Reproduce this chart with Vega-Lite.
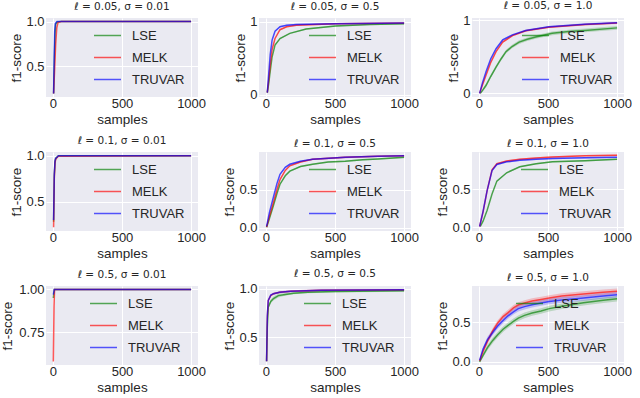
{
"$schema": "https://vega.github.io/schema/vega-lite/v6.json",
"padding": {"left": 0, "top": 0, "right": 0, "bottom": 0},
"bounds": "flush",
"columns": 3,
"spacing": {"row": 55, "column": 61},
"resolve": {"scale": {"y": "independent", "x": "independent"}, "legend": {"color": "independent"}},
"data": {"values": [
{"p":1,"m":"LSE","x":5,"y":0.2,"lo":0.2,"hi":0.2},
{"p":1,"m":"LSE","x":10,"y":0.55,"lo":0.55,"hi":0.55},
{"p":1,"m":"LSE","x":15,"y":0.85,"lo":0.85,"hi":0.85},
{"p":1,"m":"LSE","x":20,"y":0.97,"lo":0.97,"hi":0.97},
{"p":1,"m":"LSE","x":30,"y":0.995,"lo":0.995,"hi":0.995},
{"p":1,"m":"LSE","x":60,"y":1.0,"lo":1.0,"hi":1.0},
{"p":1,"m":"LSE","x":1000,"y":1.0,"lo":1.0,"hi":1.0},
{"p":1,"m":"MELK","x":5,"y":0.2,"lo":0.2,"hi":0.2},
{"p":1,"m":"MELK","x":12,"y":0.45,"lo":0.45,"hi":0.45},
{"p":1,"m":"MELK","x":20,"y":0.75,"lo":0.75,"hi":0.75},
{"p":1,"m":"MELK","x":28,"y":0.93,"lo":0.93,"hi":0.93},
{"p":1,"m":"MELK","x":37,"y":0.99,"lo":0.99,"hi":0.99},
{"p":1,"m":"MELK","x":60,"y":1.0,"lo":1.0,"hi":1.0},
{"p":1,"m":"MELK","x":1000,"y":1.0,"lo":1.0,"hi":1.0},
{"p":1,"m":"TRUVAR","x":5,"y":0.2,"lo":0.2,"hi":0.2},
{"p":1,"m":"TRUVAR","x":9,"y":0.6,"lo":0.6,"hi":0.6},
{"p":1,"m":"TRUVAR","x":13,"y":0.9,"lo":0.9,"hi":0.9},
{"p":1,"m":"TRUVAR","x":18,"y":0.98,"lo":0.98,"hi":0.98},
{"p":1,"m":"TRUVAR","x":30,"y":1.0,"lo":1.0,"hi":1.0},
{"p":1,"m":"TRUVAR","x":1000,"y":1.0,"lo":1.0,"hi":1.0},

{"p":2,"m":"LSE","x":10,"y":0.03,"lo":0.02,"hi":0.04},
{"p":2,"m":"LSE","x":20,"y":0.15,"lo":0.14,"hi":0.16},
{"p":2,"m":"LSE","x":31,"y":0.32,"lo":0.31,"hi":0.33},
{"p":2,"m":"LSE","x":45,"y":0.52,"lo":0.51,"hi":0.53},
{"p":2,"m":"LSE","x":66,"y":0.68,"lo":0.67,"hi":0.69},
{"p":2,"m":"LSE","x":102,"y":0.77,"lo":0.76,"hi":0.78},
{"p":2,"m":"LSE","x":173,"y":0.84,"lo":0.83,"hi":0.85},
{"p":2,"m":"LSE","x":291,"y":0.9,"lo":0.89,"hi":0.91},
{"p":2,"m":"LSE","x":504,"y":0.94,"lo":0.93,"hi":0.95},
{"p":2,"m":"LSE","x":750,"y":0.96,"lo":0.95,"hi":0.97},
{"p":2,"m":"LSE","x":1000,"y":0.97,"lo":0.96,"hi":0.98},
{"p":2,"m":"MELK","x":10,"y":0.03,"lo":0.02,"hi":0.04},
{"p":2,"m":"MELK","x":20,"y":0.2,"lo":0.19,"hi":0.21},
{"p":2,"m":"MELK","x":31,"y":0.41,"lo":0.4,"hi":0.42},
{"p":2,"m":"MELK","x":45,"y":0.62,"lo":0.61,"hi":0.63},
{"p":2,"m":"MELK","x":66,"y":0.77,"lo":0.76,"hi":0.78},
{"p":2,"m":"MELK","x":102,"y":0.89,"lo":0.88,"hi":0.9},
{"p":2,"m":"MELK","x":150,"y":0.93,"lo":0.92,"hi":0.94},
{"p":2,"m":"MELK","x":220,"y":0.95,"lo":0.94,"hi":0.96},
{"p":2,"m":"MELK","x":500,"y":0.97,"lo":0.96,"hi":0.98},
{"p":2,"m":"MELK","x":1000,"y":0.98,"lo":0.97,"hi":0.99},
{"p":2,"m":"TRUVAR","x":10,"y":0.03,"lo":0.02,"hi":0.04},
{"p":2,"m":"TRUVAR","x":20,"y":0.28,"lo":0.27,"hi":0.29},
{"p":2,"m":"TRUVAR","x":31,"y":0.55,"lo":0.54,"hi":0.56},
{"p":2,"m":"TRUVAR","x":45,"y":0.75,"lo":0.74,"hi":0.76},
{"p":2,"m":"TRUVAR","x":66,"y":0.87,"lo":0.86,"hi":0.88},
{"p":2,"m":"TRUVAR","x":102,"y":0.93,"lo":0.92,"hi":0.94},
{"p":2,"m":"TRUVAR","x":150,"y":0.95,"lo":0.94,"hi":0.96},
{"p":2,"m":"TRUVAR","x":220,"y":0.96,"lo":0.95,"hi":0.97},
{"p":2,"m":"TRUVAR","x":500,"y":0.97,"lo":0.96,"hi":0.98},
{"p":2,"m":"TRUVAR","x":1000,"y":0.98,"lo":0.97,"hi":0.99},

{"p":3,"m":"LSE","x":10,"y":0.0,"lo":-0.01,"hi":0.01},
{"p":3,"m":"LSE","x":30,"y":0.05,"lo":0.03,"hi":0.07},
{"p":3,"m":"LSE","x":52,"y":0.11,"lo":0.085,"hi":0.135},
{"p":3,"m":"LSE","x":85,"y":0.23,"lo":0.205,"hi":0.255},
{"p":3,"m":"LSE","x":124,"y":0.36,"lo":0.335,"hi":0.385},
{"p":3,"m":"LSE","x":160,"y":0.47,"lo":0.445,"hi":0.495},
{"p":3,"m":"LSE","x":196,"y":0.57,"lo":0.545,"hi":0.595},
{"p":3,"m":"LSE","x":240,"y":0.64,"lo":0.615,"hi":0.665},
{"p":3,"m":"LSE","x":291,"y":0.7,"lo":0.675,"hi":0.725},
{"p":3,"m":"LSE","x":350,"y":0.74,"lo":0.715,"hi":0.765},
{"p":3,"m":"LSE","x":411,"y":0.77,"lo":0.745,"hi":0.795},
{"p":3,"m":"LSE","x":530,"y":0.82,"lo":0.795,"hi":0.845},
{"p":3,"m":"LSE","x":650,"y":0.845,"lo":0.82,"hi":0.87},
{"p":3,"m":"LSE","x":768,"y":0.86,"lo":0.835,"hi":0.885},
{"p":3,"m":"LSE","x":1000,"y":0.895,"lo":0.87,"hi":0.92},
{"p":3,"m":"MELK","x":5,"y":0.0,"lo":-0.005,"hi":0.005},
{"p":3,"m":"MELK","x":25,"y":0.11,"lo":0.098,"hi":0.122},
{"p":3,"m":"MELK","x":52,"y":0.25,"lo":0.238,"hi":0.262},
{"p":3,"m":"MELK","x":85,"y":0.42,"lo":0.408,"hi":0.432},
{"p":3,"m":"MELK","x":124,"y":0.57,"lo":0.558,"hi":0.582},
{"p":3,"m":"MELK","x":172,"y":0.7,"lo":0.688,"hi":0.712},
{"p":3,"m":"MELK","x":243,"y":0.79,"lo":0.778,"hi":0.802},
{"p":3,"m":"MELK","x":339,"y":0.855,"lo":0.843,"hi":0.867},
{"p":3,"m":"MELK","x":506,"y":0.905,"lo":0.893,"hi":0.917},
{"p":3,"m":"MELK","x":768,"y":0.94,"lo":0.928,"hi":0.952},
{"p":3,"m":"MELK","x":1000,"y":0.96,"lo":0.948,"hi":0.972},
{"p":3,"m":"TRUVAR","x":5,"y":0.0,"lo":-0.005,"hi":0.005},
{"p":3,"m":"TRUVAR","x":25,"y":0.14,"lo":0.128,"hi":0.152},
{"p":3,"m":"TRUVAR","x":52,"y":0.3,"lo":0.288,"hi":0.312},
{"p":3,"m":"TRUVAR","x":85,"y":0.47,"lo":0.458,"hi":0.482},
{"p":3,"m":"TRUVAR","x":124,"y":0.61,"lo":0.598,"hi":0.622},
{"p":3,"m":"TRUVAR","x":172,"y":0.73,"lo":0.718,"hi":0.742},
{"p":3,"m":"TRUVAR","x":243,"y":0.8,"lo":0.788,"hi":0.812},
{"p":3,"m":"TRUVAR","x":339,"y":0.86,"lo":0.848,"hi":0.872},
{"p":3,"m":"TRUVAR","x":506,"y":0.91,"lo":0.898,"hi":0.922},
{"p":3,"m":"TRUVAR","x":768,"y":0.945,"lo":0.933,"hi":0.957},
{"p":3,"m":"TRUVAR","x":1000,"y":0.965,"lo":0.953,"hi":0.977},

{"p":4,"m":"LSE","x":5,"y":0.28,"lo":0.28,"hi":0.28},
{"p":4,"m":"LSE","x":10,"y":0.78,"lo":0.78,"hi":0.78},
{"p":4,"m":"LSE","x":15,"y":0.93,"lo":0.93,"hi":0.93},
{"p":4,"m":"LSE","x":20,"y":0.97,"lo":0.97,"hi":0.97},
{"p":4,"m":"LSE","x":40,"y":1.0,"lo":1.0,"hi":1.0},
{"p":4,"m":"LSE","x":1000,"y":1.0,"lo":1.0,"hi":1.0},
{"p":4,"m":"MELK","x":5,"y":0.22,"lo":0.22,"hi":0.22},
{"p":4,"m":"MELK","x":10,"y":0.75,"lo":0.75,"hi":0.75},
{"p":4,"m":"MELK","x":15,"y":0.92,"lo":0.92,"hi":0.92},
{"p":4,"m":"MELK","x":20,"y":0.96,"lo":0.96,"hi":0.96},
{"p":4,"m":"MELK","x":40,"y":0.995,"lo":0.995,"hi":0.995},
{"p":4,"m":"MELK","x":1000,"y":1.0,"lo":1.0,"hi":1.0},
{"p":4,"m":"TRUVAR","x":5,"y":0.3,"lo":0.3,"hi":0.3},
{"p":4,"m":"TRUVAR","x":10,"y":0.8,"lo":0.8,"hi":0.8},
{"p":4,"m":"TRUVAR","x":15,"y":0.94,"lo":0.94,"hi":0.94},
{"p":4,"m":"TRUVAR","x":20,"y":0.97,"lo":0.97,"hi":0.97},
{"p":4,"m":"TRUVAR","x":40,"y":1.0,"lo":1.0,"hi":1.0},
{"p":4,"m":"TRUVAR","x":1000,"y":1.0,"lo":1.0,"hi":1.0},

{"p":5,"m":"LSE","x":5,"y":0.01,"lo":0.0,"hi":0.02},
{"p":5,"m":"LSE","x":25,"y":0.12,"lo":0.11,"hi":0.13},
{"p":5,"m":"LSE","x":54,"y":0.29,"lo":0.28,"hi":0.3},
{"p":5,"m":"LSE","x":80,"y":0.45,"lo":0.44,"hi":0.46},
{"p":5,"m":"LSE","x":102,"y":0.57,"lo":0.56,"hi":0.58},
{"p":5,"m":"LSE","x":140,"y":0.68,"lo":0.67,"hi":0.69},
{"p":5,"m":"LSE","x":173,"y":0.74,"lo":0.73,"hi":0.75},
{"p":5,"m":"LSE","x":250,"y":0.8,"lo":0.79,"hi":0.81},
{"p":5,"m":"LSE","x":338,"y":0.83,"lo":0.82,"hi":0.84},
{"p":5,"m":"LSE","x":450,"y":0.86,"lo":0.85,"hi":0.87},
{"p":5,"m":"LSE","x":574,"y":0.87,"lo":0.86,"hi":0.88},
{"p":5,"m":"LSE","x":700,"y":0.89,"lo":0.88,"hi":0.9},
{"p":5,"m":"LSE","x":811,"y":0.9,"lo":0.89,"hi":0.91},
{"p":5,"m":"LSE","x":1000,"y":0.92,"lo":0.91,"hi":0.93},
{"p":5,"m":"MELK","x":5,"y":0.01,"lo":0.0,"hi":0.02},
{"p":5,"m":"MELK","x":25,"y":0.15,"lo":0.14,"hi":0.16},
{"p":5,"m":"MELK","x":54,"y":0.33,"lo":0.32,"hi":0.34},
{"p":5,"m":"MELK","x":80,"y":0.5,"lo":0.49,"hi":0.51},
{"p":5,"m":"MELK","x":102,"y":0.63,"lo":0.62,"hi":0.64},
{"p":5,"m":"MELK","x":140,"y":0.75,"lo":0.74,"hi":0.76},
{"p":5,"m":"MELK","x":173,"y":0.81,"lo":0.8,"hi":0.82},
{"p":5,"m":"MELK","x":250,"y":0.86,"lo":0.85,"hi":0.87},
{"p":5,"m":"MELK","x":338,"y":0.895,"lo":0.885,"hi":0.905},
{"p":5,"m":"MELK","x":574,"y":0.92,"lo":0.91,"hi":0.93},
{"p":5,"m":"MELK","x":811,"y":0.935,"lo":0.925,"hi":0.945},
{"p":5,"m":"MELK","x":1000,"y":0.94,"lo":0.93,"hi":0.95},
{"p":5,"m":"TRUVAR","x":5,"y":0.02,"lo":0.01,"hi":0.03},
{"p":5,"m":"TRUVAR","x":25,"y":0.2,"lo":0.19,"hi":0.21},
{"p":5,"m":"TRUVAR","x":54,"y":0.4,"lo":0.39,"hi":0.41},
{"p":5,"m":"TRUVAR","x":80,"y":0.58,"lo":0.57,"hi":0.59},
{"p":5,"m":"TRUVAR","x":102,"y":0.7,"lo":0.69,"hi":0.71},
{"p":5,"m":"TRUVAR","x":140,"y":0.79,"lo":0.78,"hi":0.8},
{"p":5,"m":"TRUVAR","x":173,"y":0.83,"lo":0.82,"hi":0.84},
{"p":5,"m":"TRUVAR","x":250,"y":0.87,"lo":0.86,"hi":0.88},
{"p":5,"m":"TRUVAR","x":338,"y":0.895,"lo":0.885,"hi":0.905},
{"p":5,"m":"TRUVAR","x":574,"y":0.92,"lo":0.91,"hi":0.93},
{"p":5,"m":"TRUVAR","x":811,"y":0.935,"lo":0.925,"hi":0.945},
{"p":5,"m":"TRUVAR","x":1000,"y":0.94,"lo":0.93,"hi":0.95},

{"p":6,"m":"LSE","x":10,"y":0.01,"lo":0.0,"hi":0.02},
{"p":6,"m":"LSE","x":30,"y":0.08,"lo":0.07,"hi":0.09},
{"p":6,"m":"LSE","x":59,"y":0.22,"lo":0.21,"hi":0.23},
{"p":6,"m":"LSE","x":95,"y":0.44,"lo":0.43,"hi":0.45},
{"p":6,"m":"LSE","x":130,"y":0.61,"lo":0.6,"hi":0.62},
{"p":6,"m":"LSE","x":201,"y":0.72,"lo":0.71,"hi":0.73},
{"p":6,"m":"LSE","x":296,"y":0.8,"lo":0.79,"hi":0.81},
{"p":6,"m":"LSE","x":414,"y":0.84,"lo":0.83,"hi":0.85},
{"p":6,"m":"LSE","x":532,"y":0.865,"lo":0.855,"hi":0.875},
{"p":6,"m":"LSE","x":768,"y":0.88,"lo":0.87,"hi":0.89},
{"p":6,"m":"LSE","x":1000,"y":0.9,"lo":0.89,"hi":0.91},
{"p":6,"m":"MELK","x":5,"y":0.01,"lo":0.0,"hi":0.02},
{"p":6,"m":"MELK","x":30,"y":0.2,"lo":0.19,"hi":0.21},
{"p":6,"m":"MELK","x":59,"y":0.48,"lo":0.47,"hi":0.49},
{"p":6,"m":"MELK","x":95,"y":0.76,"lo":0.75,"hi":0.77},
{"p":6,"m":"MELK","x":130,"y":0.84,"lo":0.83,"hi":0.85},
{"p":6,"m":"MELK","x":201,"y":0.875,"lo":0.865,"hi":0.885},
{"p":6,"m":"MELK","x":296,"y":0.9,"lo":0.89,"hi":0.91},
{"p":6,"m":"MELK","x":414,"y":0.915,"lo":0.905,"hi":0.925},
{"p":6,"m":"MELK","x":532,"y":0.93,"lo":0.92,"hi":0.94},
{"p":6,"m":"MELK","x":768,"y":0.945,"lo":0.935,"hi":0.955},
{"p":6,"m":"MELK","x":1000,"y":0.952,"lo":0.942,"hi":0.962},
{"p":6,"m":"TRUVAR","x":5,"y":0.01,"lo":0.0,"hi":0.02},
{"p":6,"m":"TRUVAR","x":30,"y":0.21,"lo":0.2,"hi":0.22},
{"p":6,"m":"TRUVAR","x":59,"y":0.48,"lo":0.47,"hi":0.49},
{"p":6,"m":"TRUVAR","x":95,"y":0.75,"lo":0.74,"hi":0.76},
{"p":6,"m":"TRUVAR","x":130,"y":0.83,"lo":0.82,"hi":0.84},
{"p":6,"m":"TRUVAR","x":201,"y":0.865,"lo":0.855,"hi":0.875},
{"p":6,"m":"TRUVAR","x":296,"y":0.885,"lo":0.875,"hi":0.895},
{"p":6,"m":"TRUVAR","x":414,"y":0.9,"lo":0.89,"hi":0.91},
{"p":6,"m":"TRUVAR","x":532,"y":0.91,"lo":0.9,"hi":0.92},
{"p":6,"m":"TRUVAR","x":768,"y":0.92,"lo":0.91,"hi":0.93},
{"p":6,"m":"TRUVAR","x":1000,"y":0.926,"lo":0.916,"hi":0.936},

{"p":7,"m":"LSE","x":3,"y":0.95,"lo":0.95,"hi":0.95},
{"p":7,"m":"LSE","x":10,"y":1.0,"lo":1.0,"hi":1.0},
{"p":7,"m":"LSE","x":1000,"y":1.0,"lo":1.0,"hi":1.0},
{"p":7,"m":"MELK","x":3,"y":0.58,"lo":0.58,"hi":0.58},
{"p":7,"m":"MELK","x":8,"y":0.9,"lo":0.9,"hi":0.9},
{"p":7,"m":"MELK","x":12,"y":1.0,"lo":1.0,"hi":1.0},
{"p":7,"m":"MELK","x":1000,"y":1.0,"lo":1.0,"hi":1.0},
{"p":7,"m":"TRUVAR","x":3,"y":0.97,"lo":0.97,"hi":0.97},
{"p":7,"m":"TRUVAR","x":10,"y":1.0,"lo":1.0,"hi":1.0},
{"p":7,"m":"TRUVAR","x":1000,"y":1.0,"lo":1.0,"hi":1.0},

{"p":8,"m":"LSE","x":5,"y":0.25,"lo":0.24,"hi":0.26},
{"p":8,"m":"LSE","x":10,"y":0.6,"lo":0.58,"hi":0.62},
{"p":8,"m":"LSE","x":17,"y":0.81,"lo":0.79,"hi":0.83},
{"p":8,"m":"LSE","x":35,"y":0.87,"lo":0.85,"hi":0.89},
{"p":8,"m":"LSE","x":55,"y":0.9,"lo":0.88,"hi":0.92},
{"p":8,"m":"LSE","x":90,"y":0.93,"lo":0.91,"hi":0.95},
{"p":8,"m":"LSE","x":129,"y":0.94,"lo":0.925,"hi":0.955},
{"p":8,"m":"LSE","x":200,"y":0.955,"lo":0.945,"hi":0.965},
{"p":8,"m":"LSE","x":303,"y":0.965,"lo":0.955,"hi":0.975},
{"p":8,"m":"LSE","x":500,"y":0.972,"lo":0.962,"hi":0.982},
{"p":8,"m":"LSE","x":1000,"y":0.98,"lo":0.97,"hi":0.99},
{"p":8,"m":"MELK","x":5,"y":0.25,"lo":0.24,"hi":0.26},
{"p":8,"m":"MELK","x":10,"y":0.7,"lo":0.69,"hi":0.71},
{"p":8,"m":"MELK","x":17,"y":0.88,"lo":0.87,"hi":0.89},
{"p":8,"m":"MELK","x":35,"y":0.93,"lo":0.92,"hi":0.94},
{"p":8,"m":"MELK","x":55,"y":0.95,"lo":0.94,"hi":0.96},
{"p":8,"m":"MELK","x":100,"y":0.965,"lo":0.955,"hi":0.975},
{"p":8,"m":"MELK","x":180,"y":0.975,"lo":0.965,"hi":0.985},
{"p":8,"m":"MELK","x":400,"y":0.985,"lo":0.975,"hi":0.995},
{"p":8,"m":"MELK","x":1000,"y":0.99,"lo":0.98,"hi":1.0},
{"p":8,"m":"TRUVAR","x":5,"y":0.25,"lo":0.24,"hi":0.26},
{"p":8,"m":"TRUVAR","x":10,"y":0.72,"lo":0.71,"hi":0.73},
{"p":8,"m":"TRUVAR","x":17,"y":0.88,"lo":0.87,"hi":0.89},
{"p":8,"m":"TRUVAR","x":35,"y":0.935,"lo":0.925,"hi":0.945},
{"p":8,"m":"TRUVAR","x":55,"y":0.95,"lo":0.94,"hi":0.96},
{"p":8,"m":"TRUVAR","x":100,"y":0.965,"lo":0.955,"hi":0.975},
{"p":8,"m":"TRUVAR","x":180,"y":0.975,"lo":0.965,"hi":0.985},
{"p":8,"m":"TRUVAR","x":400,"y":0.985,"lo":0.975,"hi":0.995},
{"p":8,"m":"TRUVAR","x":1000,"y":0.99,"lo":0.98,"hi":1.0},

{"p":9,"m":"LSE","x":5,"y":0.0,"lo":-0.01,"hi":0.01},
{"p":9,"m":"LSE","x":30,"y":0.08,"lo":0.055,"hi":0.105},
{"p":9,"m":"LSE","x":62,"y":0.18,"lo":0.145,"hi":0.215},
{"p":9,"m":"LSE","x":100,"y":0.27,"lo":0.235,"hi":0.305},
{"p":9,"m":"LSE","x":136,"y":0.34,"lo":0.305,"hi":0.375},
{"p":9,"m":"LSE","x":175,"y":0.41,"lo":0.375,"hi":0.445},
{"p":9,"m":"LSE","x":211,"y":0.46,"lo":0.425,"hi":0.495},
{"p":9,"m":"LSE","x":250,"y":0.51,"lo":0.475,"hi":0.545},
{"p":9,"m":"LSE","x":285,"y":0.55,"lo":0.515,"hi":0.585},
{"p":9,"m":"LSE","x":330,"y":0.585,"lo":0.55,"hi":0.62},
{"p":9,"m":"LSE","x":385,"y":0.615,"lo":0.58,"hi":0.65},
{"p":9,"m":"LSE","x":450,"y":0.64,"lo":0.605,"hi":0.675},
{"p":9,"m":"LSE","x":509,"y":0.67,"lo":0.635,"hi":0.705},
{"p":9,"m":"LSE","x":600,"y":0.7,"lo":0.665,"hi":0.735},
{"p":9,"m":"LSE","x":757,"y":0.745,"lo":0.71,"hi":0.78},
{"p":9,"m":"LSE","x":900,"y":0.775,"lo":0.74,"hi":0.81},
{"p":9,"m":"LSE","x":1000,"y":0.795,"lo":0.76,"hi":0.83},
{"p":9,"m":"MELK","x":5,"y":0.01,"lo":0.0,"hi":0.02},
{"p":9,"m":"MELK","x":30,"y":0.13,"lo":0.105,"hi":0.155},
{"p":9,"m":"MELK","x":62,"y":0.26,"lo":0.225,"hi":0.295},
{"p":9,"m":"MELK","x":100,"y":0.39,"lo":0.355,"hi":0.425},
{"p":9,"m":"MELK","x":136,"y":0.49,"lo":0.455,"hi":0.525},
{"p":9,"m":"MELK","x":175,"y":0.57,"lo":0.535,"hi":0.605},
{"p":9,"m":"MELK","x":211,"y":0.62,"lo":0.585,"hi":0.655},
{"p":9,"m":"MELK","x":250,"y":0.68,"lo":0.645,"hi":0.715},
{"p":9,"m":"MELK","x":285,"y":0.715,"lo":0.68,"hi":0.75},
{"p":9,"m":"MELK","x":330,"y":0.74,"lo":0.705,"hi":0.775},
{"p":9,"m":"MELK","x":385,"y":0.765,"lo":0.73,"hi":0.8},
{"p":9,"m":"MELK","x":450,"y":0.785,"lo":0.75,"hi":0.82},
{"p":9,"m":"MELK","x":509,"y":0.805,"lo":0.77,"hi":0.84},
{"p":9,"m":"MELK","x":600,"y":0.83,"lo":0.795,"hi":0.865},
{"p":9,"m":"MELK","x":757,"y":0.855,"lo":0.82,"hi":0.89},
{"p":9,"m":"MELK","x":900,"y":0.875,"lo":0.84,"hi":0.91},
{"p":9,"m":"MELK","x":1000,"y":0.89,"lo":0.855,"hi":0.925},
{"p":9,"m":"TRUVAR","x":5,"y":0.02,"lo":0.01,"hi":0.03},
{"p":9,"m":"TRUVAR","x":30,"y":0.16,"lo":0.135,"hi":0.185},
{"p":9,"m":"TRUVAR","x":62,"y":0.28,"lo":0.245,"hi":0.315},
{"p":9,"m":"TRUVAR","x":100,"y":0.37,"lo":0.335,"hi":0.405},
{"p":9,"m":"TRUVAR","x":136,"y":0.45,"lo":0.415,"hi":0.485},
{"p":9,"m":"TRUVAR","x":175,"y":0.52,"lo":0.485,"hi":0.555},
{"p":9,"m":"TRUVAR","x":211,"y":0.58,"lo":0.545,"hi":0.615},
{"p":9,"m":"TRUVAR","x":250,"y":0.63,"lo":0.595,"hi":0.665},
{"p":9,"m":"TRUVAR","x":285,"y":0.67,"lo":0.635,"hi":0.705},
{"p":9,"m":"TRUVAR","x":330,"y":0.695,"lo":0.66,"hi":0.73},
{"p":9,"m":"TRUVAR","x":385,"y":0.72,"lo":0.685,"hi":0.755},
{"p":9,"m":"TRUVAR","x":450,"y":0.74,"lo":0.705,"hi":0.775},
{"p":9,"m":"TRUVAR","x":509,"y":0.76,"lo":0.725,"hi":0.795},
{"p":9,"m":"TRUVAR","x":600,"y":0.78,"lo":0.745,"hi":0.815},
{"p":9,"m":"TRUVAR","x":757,"y":0.805,"lo":0.77,"hi":0.84},
{"p":9,"m":"TRUVAR","x":900,"y":0.83,"lo":0.795,"hi":0.865},
{"p":9,"m":"TRUVAR","x":1000,"y":0.845,"lo":0.81,"hi":0.88}
]},
"concat": [
{"title": "ℓ = 0.05, σ = 0.01", "width": 152, "height": 79, "transform": [{"filter": "datum.p == 1"}],
 "encoding": {"x": {"field": "x", "type": "quantitative", "scale": {"domain": [-50, 1050], "nice": false, "zero": false}, "axis": {"values": [0, 500, 1000], "format": "d", "title": "samples"}}},
 "layer": [
  {"mark": {"type": "area", "opacity": 0.2}, "encoding": {"y": {"field": "lo", "type": "quantitative", "scale": {"domain": [0.16, 1.04], "nice": false, "zero": false}, "axis": {"values": [0.5, 1.0], "format": ".1f", "title": "f1-score"}}, "y2": {"field": "hi"}, "color": {"field": "m", "type": "nominal", "legend": {"title": null, "orient": "none", "legendX": 47, "legendY": 3}}}},
  {"mark": {"type": "line", "strokeWidth": 1.5, "opacity": 0.65}, "encoding": {"y": {"field": "y", "type": "quantitative", "scale": {"domain": [0.16, 1.04], "nice": false, "zero": false}, "axis": {"values": [0.5, 1.0], "format": ".1f", "title": "f1-score"}}, "color": {"field": "m", "type": "nominal", "legend": {"title": null, "orient": "none", "legendX": 47, "legendY": 3}}}}
 ]},
{"title": "ℓ = 0.05, σ = 0.5", "width": 152, "height": 79, "transform": [{"filter": "datum.p == 2"}],
 "encoding": {"x": {"field": "x", "type": "quantitative", "scale": {"domain": [-50, 1050], "nice": false, "zero": false}, "axis": {"values": [0, 500, 1000], "format": "d", "title": "samples"}}},
 "layer": [
  {"mark": {"type": "area", "opacity": 0.2}, "encoding": {"y": {"field": "lo", "type": "quantitative", "scale": {"domain": [-0.03, 1.05], "nice": false, "zero": false}, "axis": {"values": [0, 1], "format": "d", "title": "f1-score"}}, "y2": {"field": "hi"}, "color": {"field": "m", "type": "nominal", "legend": {"title": null, "orient": "none", "legendX": 49, "legendY": 3}}}},
  {"mark": {"type": "line", "strokeWidth": 1.5, "opacity": 0.65}, "encoding": {"y": {"field": "y", "type": "quantitative", "scale": {"domain": [-0.03, 1.05], "nice": false, "zero": false}, "axis": {"values": [0, 1], "format": "d", "title": "f1-score"}}, "color": {"field": "m", "type": "nominal", "legend": {"title": null, "orient": "none", "legendX": 49, "legendY": 3}}}}
 ]},
{"title": "ℓ = 0.05, σ = 1.0", "width": 152, "height": 79, "transform": [{"filter": "datum.p == 3"}],
 "encoding": {"x": {"field": "x", "type": "quantitative", "scale": {"domain": [-50, 1050], "nice": false, "zero": false}, "axis": {"values": [0, 500, 1000], "format": "d", "title": "samples"}}},
 "layer": [
  {"mark": {"type": "area", "opacity": 0.2}, "encoding": {"y": {"field": "lo", "type": "quantitative", "scale": {"domain": [-0.05, 1.03], "nice": false, "zero": false}, "axis": {"values": [0, 1], "format": "d", "title": "f1-score"}}, "y2": {"field": "hi"}, "color": {"field": "m", "type": "nominal", "legend": {"title": null, "orient": "none", "legendX": 49, "legendY": 3}}}},
  {"mark": {"type": "line", "strokeWidth": 1.5, "opacity": 0.65}, "encoding": {"y": {"field": "y", "type": "quantitative", "scale": {"domain": [-0.05, 1.03], "nice": false, "zero": false}, "axis": {"values": [0, 1], "format": "d", "title": "f1-score"}}, "color": {"field": "m", "type": "nominal", "legend": {"title": null, "orient": "none", "legendX": 49, "legendY": 3}}}}
 ]},
{"title": "ℓ = 0.1, σ = 0.01", "width": 152, "height": 79, "transform": [{"filter": "datum.p == 4"}],
 "encoding": {"x": {"field": "x", "type": "quantitative", "scale": {"domain": [-50, 1050], "nice": false, "zero": false}, "axis": {"values": [0, 500, 1000], "format": "d", "title": "samples"}}},
 "layer": [
  {"mark": {"type": "area", "opacity": 0.2}, "encoding": {"y": {"field": "lo", "type": "quantitative", "scale": {"domain": [0.18, 1.04], "nice": false, "zero": false}, "axis": {"values": [0.5, 1.0], "format": ".1f", "title": "f1-score"}}, "y2": {"field": "hi"}, "color": {"field": "m", "type": "nominal", "legend": {"title": null, "orient": "none", "legendX": 47, "legendY": 3}}}},
  {"mark": {"type": "line", "strokeWidth": 1.5, "opacity": 0.65}, "encoding": {"y": {"field": "y", "type": "quantitative", "scale": {"domain": [0.18, 1.04], "nice": false, "zero": false}, "axis": {"values": [0.5, 1.0], "format": ".1f", "title": "f1-score"}}, "color": {"field": "m", "type": "nominal", "legend": {"title": null, "orient": "none", "legendX": 47, "legendY": 3}}}}
 ]},
{"title": "ℓ = 0.1, σ = 0.5", "width": 152, "height": 79, "transform": [{"filter": "datum.p == 5"}],
 "encoding": {"x": {"field": "x", "type": "quantitative", "scale": {"domain": [-50, 1050], "nice": false, "zero": false}, "axis": {"values": [0, 500, 1000], "format": "d", "title": "samples"}}},
 "layer": [
  {"mark": {"type": "area", "opacity": 0.2}, "encoding": {"y": {"field": "lo", "type": "quantitative", "scale": {"domain": [-0.04, 0.99], "nice": false, "zero": false}, "axis": {"values": [0, 0.5], "format": ".1f", "title": "f1-score"}}, "y2": {"field": "hi"}, "color": {"field": "m", "type": "nominal", "legend": {"title": null, "orient": "none", "legendX": 49, "legendY": 3}}}},
  {"mark": {"type": "line", "strokeWidth": 1.5, "opacity": 0.65}, "encoding": {"y": {"field": "y", "type": "quantitative", "scale": {"domain": [-0.04, 0.99], "nice": false, "zero": false}, "axis": {"values": [0, 0.5], "format": ".1f", "title": "f1-score"}}, "color": {"field": "m", "type": "nominal", "legend": {"title": null, "orient": "none", "legendX": 49, "legendY": 3}}}}
 ]},
{"title": "ℓ = 0.1, σ = 1.0", "width": 152, "height": 79, "transform": [{"filter": "datum.p == 6"}],
 "encoding": {"x": {"field": "x", "type": "quantitative", "scale": {"domain": [-50, 1050], "nice": false, "zero": false}, "axis": {"values": [0, 500, 1000], "format": "d", "title": "samples"}}},
 "layer": [
  {"mark": {"type": "area", "opacity": 0.2}, "encoding": {"y": {"field": "lo", "type": "quantitative", "scale": {"domain": [-0.05, 0.995], "nice": false, "zero": false}, "axis": {"values": [0, 0.5], "format": ".1f", "title": "f1-score"}}, "y2": {"field": "hi"}, "color": {"field": "m", "type": "nominal", "legend": {"title": null, "orient": "none", "legendX": 48, "legendY": 3}}}},
  {"mark": {"type": "line", "strokeWidth": 1.5, "opacity": 0.65}, "encoding": {"y": {"field": "y", "type": "quantitative", "scale": {"domain": [-0.05, 0.995], "nice": false, "zero": false}, "axis": {"values": [0, 0.5], "format": ".1f", "title": "f1-score"}}, "color": {"field": "m", "type": "nominal", "legend": {"title": null, "orient": "none", "legendX": 48, "legendY": 3}}}}
 ]},
{"title": "ℓ = 0.5, σ = 0.01", "width": 152, "height": 79, "transform": [{"filter": "datum.p == 7"}],
 "encoding": {"x": {"field": "x", "type": "quantitative", "scale": {"domain": [-50, 1050], "nice": false, "zero": false}, "axis": {"values": [0, 500, 1000], "format": "d", "title": "samples"}}},
 "layer": [
  {"mark": {"type": "area", "opacity": 0.2}, "encoding": {"y": {"field": "lo", "type": "quantitative", "scale": {"domain": [0.56, 1.02], "nice": false, "zero": false}, "axis": {"values": [0.75, 1.0], "format": ".2f", "title": "f1-score", "titlePadding": 4}}, "y2": {"field": "hi"}, "color": {"field": "m", "type": "nominal", "legend": {"title": null, "orient": "none", "legendX": 43, "legendY": 3}}}},
  {"mark": {"type": "line", "strokeWidth": 1.5, "opacity": 0.65}, "encoding": {"y": {"field": "y", "type": "quantitative", "scale": {"domain": [0.56, 1.02], "nice": false, "zero": false}, "axis": {"values": [0.75, 1.0], "format": ".2f", "title": "f1-score", "titlePadding": 4}}, "color": {"field": "m", "type": "nominal", "legend": {"title": null, "orient": "none", "legendX": 43, "legendY": 3}}}}
 ]},
{"title": "ℓ = 0.5, σ = 0.5", "width": 152, "height": 79, "transform": [{"filter": "datum.p == 8"}],
 "encoding": {"x": {"field": "x", "type": "quantitative", "scale": {"domain": [-50, 1050], "nice": false, "zero": false}, "axis": {"values": [0, 500, 1000], "format": "d", "title": "samples"}}},
 "layer": [
  {"mark": {"type": "area", "opacity": 0.2}, "encoding": {"y": {"field": "lo", "type": "quantitative", "scale": {"domain": [0.21, 1.03], "nice": false, "zero": false}, "axis": {"values": [0.5, 1.0], "format": ".1f", "title": "f1-score"}}, "y2": {"field": "hi"}, "color": {"field": "m", "type": "nominal", "legend": {"title": null, "orient": "none", "legendX": 44, "legendY": 3}}}},
  {"mark": {"type": "line", "strokeWidth": 1.5, "opacity": 0.65}, "encoding": {"y": {"field": "y", "type": "quantitative", "scale": {"domain": [0.21, 1.03], "nice": false, "zero": false}, "axis": {"values": [0.5, 1.0], "format": ".1f", "title": "f1-score"}}, "color": {"field": "m", "type": "nominal", "legend": {"title": null, "orient": "none", "legendX": 44, "legendY": 3}}}}
 ]},
{"title": "ℓ = 0.5, σ = 1.0", "width": 152, "height": 79, "transform": [{"filter": "datum.p == 9"}],
 "encoding": {"x": {"field": "x", "type": "quantitative", "scale": {"domain": [-50, 1050], "nice": false, "zero": false}, "axis": {"values": [0, 500, 1000], "format": "d", "title": "samples"}}},
 "layer": [
  {"mark": {"type": "area", "opacity": 0.2}, "encoding": {"y": {"field": "lo", "type": "quantitative", "scale": {"domain": [-0.04, 0.955], "nice": false, "zero": false}, "axis": {"values": [0, 0.5], "format": ".1f", "title": "f1-score"}}, "y2": {"field": "hi"}, "color": {"field": "m", "type": "nominal", "legend": {"title": null, "orient": "none", "legendX": 43, "legendY": 3}}}},
  {"mark": {"type": "line", "strokeWidth": 1.5, "opacity": 0.65}, "encoding": {"y": {"field": "y", "type": "quantitative", "scale": {"domain": [-0.04, 0.955], "nice": false, "zero": false}, "axis": {"values": [0, 0.5], "format": ".1f", "title": "f1-score"}}, "color": {"field": "m", "type": "nominal", "legend": {"title": null, "orient": "none", "legendX": 43, "legendY": 3}}}}
 ]}
],
"config": {
 "font": "Liberation Sans",
 "view": {"fill": "#EAEAF2", "stroke": null},
 "range": {"category": ["#008000", "#ff0000", "#0000ff"]},
 "axis": {"domain": false, "ticks": false, "tickSize": 0, "grid": true, "gridColor": "#ffffff", "gridWidth": 1, "labelFont": "Liberation Sans", "labelFontSize": 13, "labelColor": "#262626", "labelFlush": false, "titleFont": "Liberation Sans", "titleFontSize": 13.5, "titleFontWeight": "normal", "titleColor": "#262626"},
 "axisX": {"labelPadding": 0, "titlePadding": 2},
 "axisY": {"labelPadding": 2, "titlePadding": 2, "minExtent": 0},
 "title": {"font": "DejaVu Sans", "fontSize": 10.5, "fontWeight": "normal", "color": "#262626", "offset": 3, "baseline": "alphabetic"},
 "legend": {"symbolType": "stroke", "symbolSize": 729, "symbolStrokeWidth": 1.5, "symbolOpacity": 0.65, "labelFont": "Liberation Sans", "labelFontSize": 13, "labelColor": "#262626", "labelOffset": 10, "rowPadding": -1, "padding": 0}
}
}
